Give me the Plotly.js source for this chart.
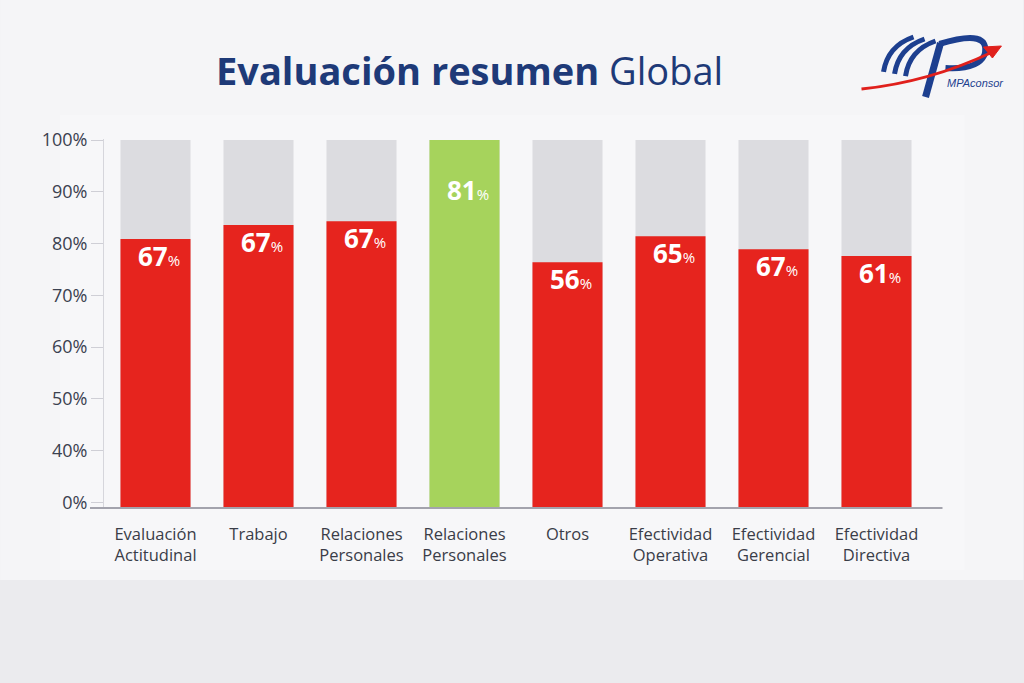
<!DOCTYPE html>
<html>
<head>
<meta charset="utf-8">
<script src="https://cdn.plot.ly/plotly-3.0.1.min.js"></script>
<style>html,body{margin:0;padding:0;background:#ebebee;}#chart{width:1024px;height:683px;}</style>
</head>
<body>
<div id="chart"></div>
<script>
// ---- data ----
const categories = ["Evaluación<br>Actitudinal", "Trabajo", "Relaciones<br>Personales", "Relaciones<br>Personales", "Otros", "Efectividad<br>Operativa", "Efectividad<br>Gerencial", "Efectividad<br>Directiva"];
const barHeights = [80.9, 83.6, 84.3, 100, 76.4, 81.4, 78.9, 77.6];   // drawn bar tops (axis %)
const valueLabels = [67, 67, 67, 81, 56, 65, 67, 61];                 // printed values
const highlight = [false, false, false, true, false, false, false, false];
const fullScale = [100, 100, 100, 100, 100, 100, 100, 100];
const yTickVals = [30, 40, 50, 60, 70, 80, 90, 100];
const yTickText = ["0%", "40%", "50%", "60%", "70%", "80%", "90%", "100%"];

// ---- layout geometry ----
const W = 1024, H = 683;
const L = 104, R = 95.5, T = 139, B = 175;
const PW = W - L - R, PH = H - T - B;
const px = (x) => ((x - L) / PW).toFixed(4);
const py = (y) => ((H - B - y) / PH).toFixed(4);
const pt = (x, y) => px(x) + "," + py(y);

const xIdx = categories.map((_, i) => i);
const red = "#e6241e", green = "#a6d35c", grey = "#dcdce0";

const traces = [
  { type: "bar", x: xIdx, y: fullScale, marker: { color: grey }, hoverinfo: "skip", showlegend: false },
  { type: "bar", x: xIdx, y: barHeights, marker: { color: highlight.map(h => h ? green : red) }, hoverinfo: "skip", showlegend: false }
];

const annotations = valueLabels.map((v, i) => ({
  x: i, y: barHeights[i], xref: "x", yref: "y",
  text: "<b>" + v + "</b><span style=\"font-size:15px\">%</span>",
  showarrow: false, yanchor: "middle", xanchor: "center",
  yshift: highlight[i] ? -50 : -17, xshift: 3,
  font: { family: "Open Sans", size: 26, color: "#ffffff" }
}));

annotations.push({
  xref: "paper", yref: "paper", x: px(470), y: py(70), xanchor: "center", yanchor: "middle",
  text: "<b>Evaluación resumen</b> Global", showarrow: false,
  font: { family: "Open Sans", size: 38, color: "#1e3a78" }
});
annotations.push({
  xref: "paper", yref: "paper", x: px(976), y: py(83), xanchor: "center", yanchor: "middle",
  text: "<i>MPAconsor</i>", showarrow: false,
  font: { family: "Liberation Sans", size: 11, color: "#1d3f8f" }
});

const shapes = [
  // background panel
  { type: "rect", xref: "paper", yref: "paper", x0: px(0), x1: px(1024), y0: py(0), y1: py(580), fillcolor: "#f5f5f7", line: { width: 0 }, layer: "below" },
  { type: "rect", xref: "paper", yref: "paper", x0: px(60), x1: px(965), y0: py(115), y1: py(570), fillcolor: "#f7f7f9", line: { width: 0 }, layer: "below" },
  // baseline
  { type: "line", xref: "paper", yref: "paper", x0: px(90), x1: px(943), y0: 0, y1: 0, line: { color: "#a3a3ad", width: 2 } },
  // logo: blue stripes
  { type: "path", xref: "paper", yref: "paper", path: "M" + pt(884, 72) + " Q" + pt(888, 46) + " " + pt(914, 37), line: { color: "#1d3f8f", width: 5 } },
  { type: "path", xref: "paper", yref: "paper", path: "M" + pt(895, 74) + " Q" + pt(899, 48) + " " + pt(925, 39), line: { color: "#1d3f8f", width: 5 } },
  { type: "path", xref: "paper", yref: "paper", path: "M" + pt(906, 76) + " Q" + pt(910, 50) + " " + pt(936, 41), line: { color: "#1d3f8f", width: 5 } },
  // logo: P
  { type: "path", xref: "paper", yref: "paper", path: "M" + pt(926, 97) + " L" + pt(941, 43), line: { color: "#1d3f8f", width: 7 } },
  { type: "path", xref: "paper", yref: "paper", path: "M" + pt(940, 44) + " Q" + pt(992, 28) + " " + pt(985, 55) + " Q" + pt(978, 70) + " " + pt(946, 68), line: { color: "#1d3f8f", width: 6 } },
  // logo: red swoosh
  { type: "path", xref: "paper", yref: "paper", path: "M" + pt(862, 89) + " Q" + pt(930, 82) + " " + pt(993, 52), line: { color: "#e0201c", width: 3 } },
  { type: "path", xref: "paper", yref: "paper", path: "M" + pt(1002, 46) + " L" + pt(984, 47) + " L" + pt(993, 58) + " Z", fillcolor: "#e0201c", line: { color: "#e0201c", width: 1 } }
];

const layout = {
  width: W, height: H,
  margin: { l: L, r: R, t: T, b: B },
  paper_bgcolor: "#ebebee",
  plot_bgcolor: "rgba(0,0,0,0)",
  barmode: "overlay",
  bargap: 0.32,
  showlegend: false,
  font: { family: "Open Sans", color: "#3a3d48" },
  xaxis: {
    range: [-0.5, 7.5], tickvals: xIdx, ticktext: categories,
    showgrid: false, zeroline: false, showline: false, ticks: "",
    ticklabelstandoff: 14,
    tickfont: { family: "Open Sans", size: 16.5, color: "#3a3d48" },
    fixedrange: true
  },
  yaxis: {
    range: [28.94, 100.2], tickvals: yTickVals, ticktext: yTickText,
    showgrid: false, zeroline: false,
    showline: true, linecolor: "#d6d6dc", linewidth: 1,
    ticks: "outside", ticklen: 12, tickcolor: "#cfcfd6",
    tickfont: { family: "Open Sans", size: 18, color: "#3b4150" },
    fixedrange: true
  },
  annotations: annotations,
  shapes: shapes
};

Plotly.newPlot("chart", traces, layout, { displayModeBar: false, staticPlot: true });
</script>
</body>
</html>
